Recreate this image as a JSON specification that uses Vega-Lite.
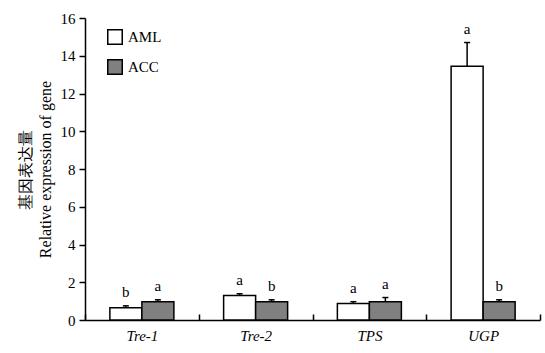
{
  "$schema": "https://vega.github.io/schema/vega-lite/v6.json",
  "width": 455,
  "height": 302,
  "autosize": {"type": "none"},
  "padding": {"left": 85, "top": 18, "right": 5, "bottom": 33},
  "background": "white",
  "config": {
    "view": {"stroke": null},
    "font": "Liberation Serif",
    "axisY": {
      "grid": false, "labelOverlap": false,
      "titleFont": "Liberation Serif", "titleFontWeight": "normal", "titleFontSize": 16,
      "titleColor": "black", "titlePadding": 7, "titleLineHeight": 20,
      "labelFont": "Liberation Serif", "labelFontSize": 15, "labelColor": "black",
      "labelPadding": 4, "tickSize": 6, "tickColor": "black", "tickWidth": 1.5,
      "domainColor": "black", "domainWidth": 1.5
    }
  },
  "data": {"values": [
    {"gene": "Tre-1", "group": "AML", "value": 0.65, "err": 0.1, "label": "b"},
    {"gene": "Tre-1", "group": "ACC", "value": 0.97, "err": 0.1, "label": "a"},
    {"gene": "Tre-2", "group": "AML", "value": 1.3, "err": 0.09, "label": "a"},
    {"gene": "Tre-2", "group": "ACC", "value": 0.97, "err": 0.1, "label": "b"},
    {"gene": "TPS", "group": "AML", "value": 0.87, "err": 0.1, "label": "a"},
    {"gene": "TPS", "group": "ACC", "value": 0.97, "err": 0.22, "label": "a"},
    {"gene": "UGP", "group": "AML", "value": 13.45, "err": 1.25, "label": "a"},
    {"gene": "UGP", "group": "ACC", "value": 0.97, "err": 0.1, "label": "b"}
  ]},
  "transform": [{"calculate": "datum.value + datum.err", "as": "top"}],
  "encoding": {
    "x": {
      "field": "gene", "type": "nominal", "sort": ["Tre-1", "Tre-2", "TPS", "UGP"],
      "scale": {"paddingInner": 0, "paddingOuter": 0},
      "axis": {
        "title": null, "labelAngle": 0, "labelFont": "Liberation Serif", "labelFontStyle": "italic",
        "labelFontSize": 15, "labelColor": "black", "labelPadding": 14,
        "tickBand": "extent", "tickSize": -6, "tickColor": "black", "tickWidth": 1.5,
        "domainColor": "black", "domainWidth": 1.5
      }
    },
    "xOffset": {
      "field": "group", "type": "nominal", "sort": ["AML", "ACC"],
      "scale": {"paddingInner": 0, "paddingOuter": 0.777}
    }
  },
  "layer": [
    {
      "mark": {"type": "bar", "stroke": "black", "strokeWidth": 1.5},
      "encoding": {
        "y": {
          "field": "value", "type": "quantitative",
          "scale": {"domain": [0, 16], "nice": false},
          "axis": {"values": [0, 2, 4, 6, 8, 10, 12, 14, 16], "title": ["基因表达量", "Relative expression of gene"]}
        },
        "fill": {
          "field": "group", "type": "nominal", "sort": ["AML", "ACC"],
          "scale": {"domain": ["AML", "ACC"], "range": ["white", "#808080"]},
          "legend": {
            "title": null, "orient": "none", "legendX": 22, "legendY": 11,
            "symbolType": "square", "symbolSize": 210, "symbolStrokeColor": "black",
            "symbolStrokeWidth": 1.5, "labelFont": "Liberation Serif", "labelFontSize": 15,
            "labelColor": "black", "rowPadding": 8, "labelOffset": 5
          }
        }
      }
    },
    {
      "mark": {"type": "rule", "stroke": "black", "strokeWidth": 1.5},
      "encoding": {
        "y": {"field": "value", "type": "quantitative",
          "axis": {"values": [0, 2, 4, 6, 8, 10, 12, 14, 16], "title": ["基因表达量", "Relative expression of gene"]}},
        "y2": {"field": "top"}
      }
    },
    {
      "mark": {"type": "tick", "color": "black", "thickness": 1.5, "size": 6, "opacity": 1},
      "encoding": {"y": {"field": "top", "type": "quantitative",
        "axis": {"values": [0, 2, 4, 6, 8, 10, 12, 14, 16], "title": ["基因表达量", "Relative expression of gene"]}}}
    },
    {
      "mark": {"type": "text", "font": "Liberation Serif", "fontSize": 15, "color": "black", "dy": -9, "baseline": "alphabetic"},
      "encoding": {
        "y": {"field": "top", "type": "quantitative",
          "axis": {"values": [0, 2, 4, 6, 8, 10, 12, 14, 16], "title": ["基因表达量", "Relative expression of gene"]}},
        "text": {"field": "label"}
      }
    }
  ]
}
